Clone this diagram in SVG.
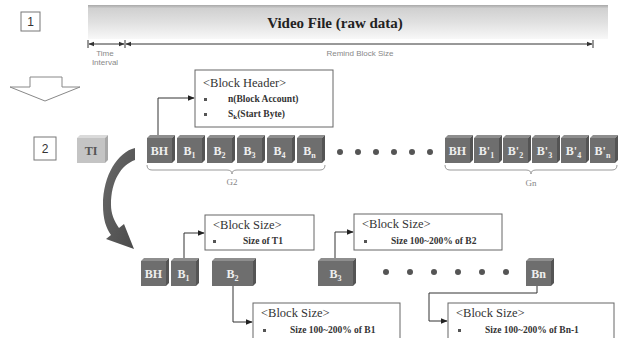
<svg xmlns="http://www.w3.org/2000/svg" width="621" height="338" viewBox="0 0 621 338">
<defs>
<linearGradient id="bar" x1="0" y1="0" x2="0" y2="1">
<stop offset="0" stop-color="#a8a8a8"/>
<stop offset="0.1" stop-color="#d0d0d0"/>
<stop offset="0.5" stop-color="#e0e0e0"/>
<stop offset="1" stop-color="#f8f8f8"/>
</linearGradient>
<linearGradient id="curve" x1="0" y1="0" x2="1" y2="1">
<stop offset="0" stop-color="#6a6a6a"/>
<stop offset="1" stop-color="#4a4a4a"/>
</linearGradient>
<marker id="ah" viewBox="0 0 10 10" refX="9" refY="5" markerWidth="7" markerHeight="7" orient="auto">
<path d="M0,1 L10,5 L0,9 Z" fill="#222"/>
</marker>
<marker id="dim" viewBox="0 0 10 10" refX="9" refY="5" markerWidth="6" markerHeight="6" orient="auto-start-reverse">
<path d="M0,1 L10,5 L0,9 Z" fill="#333"/>
</marker>
</defs>
<style>
.front{fill:#6e6e6e}
.top{fill:#8e8e8e}
.side{fill:#545454}
.lfront{fill:#c4c4c4}
.ltop{fill:#dadada}
.lside{fill:#a8a8a8}
.ct{font-family:"Liberation Serif",serif;font-weight:bold;font-size:12px;fill:#eeeeee;text-anchor:middle}
.sub{font-size:8px}
.box{fill:#ffffff;stroke:#666;stroke-width:1}
.hd{font-family:"Liberation Serif",serif;font-size:12.5px;fill:#333}
.it{font-family:"Liberation Serif",serif;font-size:9.5px;font-weight:bold;fill:#333}
.bul{fill:#555}
.lbl{font-family:"Liberation Sans",Arial,sans-serif;font-size:8px;fill:#888;text-anchor:middle}
.glbl{font-family:"Liberation Serif",serif;font-size:9px;fill:#888;text-anchor:middle}
.title{font-family:"Liberation Serif",serif;font-weight:bold;font-size:15px;fill:#222;text-anchor:middle}
.conn{fill:none;stroke:#333;stroke-width:1}
.brace{fill:none;stroke:#999;stroke-width:1}
.dot{fill:#555}
.num{fill:#fff;stroke:#777;stroke-width:1}
.numt{font-family:"Liberation Sans",Arial,sans-serif;font-size:12px;fill:#333;text-anchor:middle}
</style>

<g id="step1">
<rect class="num" x="21" y="12" width="19" height="19"/>
<text class="numt" x="30.5" y="26">1</text>
</g>

<g id="video-file">
<rect x="88" y="5" width="520" height="34" fill="url(#bar)"/>
<text class="title" x="335" y="28">Video File (raw data)</text>
<line x1="88" y1="40" x2="88" y2="48" stroke="#333"/>
<line x1="125" y1="40" x2="125" y2="48" stroke="#333"/>
<line x1="593" y1="40" x2="593" y2="48" stroke="#333"/>
<line x1="89" y1="44" x2="124" y2="44" stroke="#333" marker-start="url(#dim)" marker-end="url(#dim)"/>
<line x1="126" y1="44" x2="592" y2="44" stroke="#333" marker-start="url(#dim)" marker-end="url(#dim)"/>
<text class="lbl" x="105" y="56">Time</text>
<text class="lbl" x="105" y="65">Interval</text>
<text class="lbl" x="360" y="56">Remind Block Size</text>
</g>

<g id="down-arrow">
<polygon points="30,77 62,77 62,87 80,87 45,101 10,87 30,87" fill="#fff" stroke="#888" stroke-width="1"/>
</g>

<g id="step2">
<rect class="num" x="34" y="137" width="22" height="23"/>
<text class="numt" x="45" y="153">2</text>
</g>

<g id="TI">
<polygon class="ltop" points="77,138 80,135 108,135 105,138"/>
<polygon class="lside" points="105,138 108,135 108,160 105,163"/>
<rect class="lfront" x="77" y="138" width="28" height="25"/>
<text class="ct" x="91" y="155" style="fill:#555">TI</text>
</g>

<g id="G2">
<g id="g2-BH"><polygon class="top" points="147,138 150,135 175,135 172,138"/><polygon class="side" points="172,138 175,135 175,160 172,163"/><rect class="front" x="147" y="138" width="25" height="25"/><text class="ct" x="159.5" y="155">BH</text></g>
<g id="g2-B1"><polygon class="top" points="177,138 180,135 205,135 202,138"/><polygon class="side" points="202,138 205,135 205,160 202,163"/><rect class="front" x="177" y="138" width="25" height="25"/><text class="ct" x="189.5" y="155">B<tspan class="sub" dy="3">1</tspan></text></g>
<g id="g2-B2"><polygon class="top" points="207,138 210,135 235,135 232,138"/><polygon class="side" points="232,138 235,135 235,160 232,163"/><rect class="front" x="207" y="138" width="25" height="25"/><text class="ct" x="219.5" y="155">B<tspan class="sub" dy="3">2</tspan></text></g>
<g id="g2-B3"><polygon class="top" points="237,138 240,135 265,135 262,138"/><polygon class="side" points="262,138 265,135 265,160 262,163"/><rect class="front" x="237" y="138" width="25" height="25"/><text class="ct" x="249.5" y="155">B<tspan class="sub" dy="3">3</tspan></text></g>
<g id="g2-B4"><polygon class="top" points="267,138 270,135 295,135 292,138"/><polygon class="side" points="292,138 295,135 295,160 292,163"/><rect class="front" x="267" y="138" width="25" height="25"/><text class="ct" x="279.5" y="155">B<tspan class="sub" dy="3">4</tspan></text></g>
<g id="g2-Bn"><polygon class="top" points="297,138 300,135 325,135 322,138"/><polygon class="side" points="322,138 325,135 325,160 322,163"/><rect class="front" x="297" y="138" width="25" height="25"/><text class="ct" x="309.5" y="155">B<tspan class="sub" dy="3">n</tspan></text></g>
<path class="brace" d="M147,165 Q147,170 152,170 L227,170 Q232,170 232,174 Q232,170 237,170 L320,170 Q325,170 325,165"/>
<text class="glbl" x="232" y="185">G2</text>
</g>

<g id="dots-top">
<circle class="dot" cx="340" cy="152" r="3"/><circle class="dot" cx="358" cy="152" r="3"/><circle class="dot" cx="376" cy="152" r="3"/><circle class="dot" cx="394" cy="152" r="3"/><circle class="dot" cx="412" cy="152" r="3"/><circle class="dot" cx="430" cy="152" r="3"/>
</g>

<g id="Gn">
<g id="gn-BH"><polygon class="top" points="445,138 448,135 473,135 470,138"/><polygon class="side" points="470,138 473,135 473,160 470,163"/><rect class="front" x="445" y="138" width="25" height="25"/><text class="ct" x="457.5" y="155">BH</text></g>
<g id="gn-B1"><polygon class="top" points="474,138 477,135 502,135 499,138"/><polygon class="side" points="499,138 502,135 502,160 499,163"/><rect class="front" x="474" y="138" width="25" height="25"/><text class="ct" x="486.5" y="155">B'<tspan class="sub" dy="3">1</tspan></text></g>
<g id="gn-B2"><polygon class="top" points="503,138 506,135 531,135 528,138"/><polygon class="side" points="528,138 531,135 531,160 528,163"/><rect class="front" x="503" y="138" width="25" height="25"/><text class="ct" x="515.5" y="155">B'<tspan class="sub" dy="3">2</tspan></text></g>
<g id="gn-B3"><polygon class="top" points="532,138 535,135 560,135 557,138"/><polygon class="side" points="557,138 560,135 560,160 557,163"/><rect class="front" x="532" y="138" width="25" height="25"/><text class="ct" x="544.5" y="155">B'<tspan class="sub" dy="3">3</tspan></text></g>
<g id="gn-B4"><polygon class="top" points="561,138 564,135 589,135 586,138"/><polygon class="side" points="586,138 589,135 589,160 586,163"/><rect class="front" x="561" y="138" width="25" height="25"/><text class="ct" x="573.5" y="155">B'<tspan class="sub" dy="3">4</tspan></text></g>
<g id="gn-Bn"><polygon class="top" points="590,138 593,135 618,135 615,138"/><polygon class="side" points="615,138 618,135 618,160 615,163"/><rect class="front" x="590" y="138" width="25" height="25"/><text class="ct" x="602.5" y="155">B'<tspan class="sub" dy="3">n</tspan></text></g>
<path class="brace" d="M445,165 Q445,170 450,170 L526,170 Q531,170 531,174 Q531,170 536,170 L612,170 Q617,170 617,165"/>
<text class="glbl" x="531" y="186">Gn</text>
</g>

<g id="block-header">
<rect class="box" x="195" y="70" width="138" height="57"/>
<text class="hd" x="203" y="87">&lt;Block Header&gt;</text>
<rect class="bul" x="204" y="98" width="3" height="3"/>
<text class="it" x="228" y="102">n(Block  Account)</text>
<rect class="bul" x="204" y="113" width="3" height="3"/>
<text class="it" x="228" y="117">S<tspan font-size="7" dy="2">k</tspan><tspan dy="-2">(Start Byte)</tspan></text>
</g>

<g id="curved-arrow">
<path d="M135,148 C118,152 103,175 103,205 C103,219 106,228 111,235 L106,239 L134,249 L124,224 L119,228 C114,221 111,213 111,205 C111,181 121,165 135,160 Z" fill="url(#curve)"/>
</g>

<g id="bottom-row">
<g id="b-BH"><polygon class="top" points="141,261 144,258 169,258 166,261"/><polygon class="side" points="166,261 169,258 169,283 166,286"/><rect class="front" x="141" y="261" width="25" height="25"/><text class="ct" x="153.5" y="278">BH</text></g>
<g id="b-B1"><polygon class="top" points="171,261 174,258 199,258 196,261"/><polygon class="side" points="196,261 199,258 199,283 196,286"/><rect class="front" x="171" y="261" width="25" height="25"/><text class="ct" x="183.5" y="278">B<tspan class="sub" dy="3">1</tspan></text></g>
<g id="b-B2"><polygon class="top" points="212,261 215,258 256,258 253,261"/><polygon class="side" points="253,261 256,258 256,283 253,286"/><rect class="front" x="212" y="261" width="41" height="25"/><text class="ct" x="232.5" y="278">B<tspan class="sub" dy="3">2</tspan></text></g>
<g id="b-B3"><polygon class="top" points="318,261 321,258 356,258 353,261"/><polygon class="side" points="353,261 356,258 356,283 353,286"/><rect class="front" x="318" y="261" width="35" height="25"/><text class="ct" x="335.5" y="278">B<tspan class="sub" dy="3">3</tspan></text></g>
<g id="b-Bn"><polygon class="top" points="526,261 529,258 554,258 551,261"/><polygon class="side" points="551,261 554,258 554,283 551,286"/><rect class="front" x="526" y="261" width="25" height="25"/><text class="ct" x="538.5" y="278">Bn</text></g>
</g>

<g id="dots-bottom">
<circle class="dot" cx="386" cy="272" r="3"/><circle class="dot" cx="410" cy="272" r="3"/><circle class="dot" cx="434" cy="272" r="3"/><circle class="dot" cx="458" cy="272" r="3"/><circle class="dot" cx="482" cy="272" r="3"/><circle class="dot" cx="506" cy="272" r="3"/>
</g>

<g id="size-T1">
<rect class="box" x="205" y="215" width="109" height="35"/>
<text class="hd" x="213" y="229">&lt;Block Size&gt;</text>
<rect class="bul" x="213" y="240" width="3" height="3"/>
<text class="it" x="243" y="244">Size of T1</text>
</g>

<g id="size-B2">
<rect class="box" x="354" y="214" width="148" height="36"/>
<text class="hd" x="362" y="228">&lt;Block Size&gt;</text>
<rect class="bul" x="364" y="240" width="3" height="3"/>
<text class="it" x="391" y="244">Size 100~200% of B2</text>
</g>

<g id="size-B1">
<rect class="box" x="253" y="303" width="147" height="40"/>
<text class="hd" x="261" y="317">&lt;Block Size&gt;</text>
<rect class="bul" x="263" y="329" width="3" height="3"/>
<text class="it" x="290" y="333">Size 100~200% of B1</text>
</g>

<g id="size-Bn1">
<rect class="box" x="448" y="303" width="166" height="40"/>
<text class="hd" x="456" y="317">&lt;Block Size&gt;</text>
<rect class="bul" x="458" y="329" width="3" height="3"/>
<text class="it" x="485" y="333">Size 100~200% of Bn-1</text>
</g>

<g id="connectors">
<path class="conn" d="M158,135 V98 H194" marker-end="url(#ah)"/>
<path class="conn" d="M184,258 V233 H204" marker-end="url(#ah)"/>
<path class="conn" d="M335,258 V232 H353" marker-end="url(#ah)"/>
<path class="conn" d="M233,286 V322 H252" marker-end="url(#ah)"/>
<path class="conn" d="M537,286 V293 H429 V321 H447" marker-end="url(#ah)"/>
</g>
</svg>
